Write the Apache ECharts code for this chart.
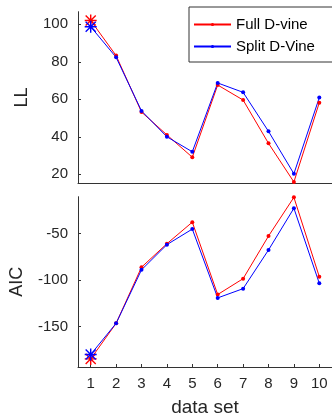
<!DOCTYPE html>
<html>
<head>
<meta charset="utf-8">
<script src="https://cdn.jsdelivr.net/npm/echarts@6/dist/echarts.min.js"></script>
<style>
  html, body { margin: 0; padding: 0; background: #fff; }
  #chart { width: 332px; height: 418px; }
</style>
</head>
<body>
<div id="chart"></div>
<script>
// data
const dataSets = ['1', '2', '3', '4', '5', '6', '7', '8', '9', '10'];
const llFull = [102, 83.3, 53.2, 41, 29.1, 67.6, 59.6, 36.5, 15.9, 58.2];
const llSplit = [98.7, 82.4, 53.8, 40, 32, 68.7, 63.7, 42.9, 20.3, 60.9];
const aicFull = [-184.5, -146.4, -86.2, -61, -37.9, -115.5, -98.5, -52.8, -11.3, -96.4];
const aicSplit = [-179.8, -146.4, -89, -62, -45.3, -119.1, -109.2, -67.7, -23, -103.5];
const llTicks = [20, 40, 60, 80, 100];
const aicTicks = [-150, -100, -50];

const RED = '#ff0000';
const BLUE = '#0000ff';
const AXIS = '#333333';
const FONT = 'Liberation Sans';

// matlab '*' marker
const STAR = 'path://M-0.6,-5L0.6,-5L0.6,5L-0.6,5Z M-5,-0.6L5,-0.6L5,0.6L-5,0.6Z ' +
  'M-4.6,-3.8L-3.8,-4.6L4.6,3.8L3.8,4.6Z M-4.6,3.8L3.8,-4.6L4.6,-3.8L-3.8,4.6Z';

// first point gets the star
const withStar = (arr) => arr.map((v, i) => i === 0 ? { value: v, symbol: STAR, symbolSize: 12 } : v);

const mkSeries = (name, values, color, idx) => ({
  name: name,
  type: 'line',
  xAxisIndex: idx,
  yAxisIndex: idx,
  data: withStar(values),
  symbol: 'circle',
  symbolSize: 4,
  lineStyle: { color: color, width: 1 },
  itemStyle: { color: color },
  emphasis: { disabled: true }
});

const yAxisBase = (idx, min, max, ticks, name, gap) => ({
  type: 'value',
  gridIndex: idx,
  min: min,
  max: max,
  name: name,
  nameLocation: 'middle',
  nameGap: gap,
  nameTextStyle: { fontFamily: FONT, fontSize: 18, color: '#262626' },
  splitLine: { show: false },
  axisLine: { show: true, lineStyle: { color: AXIS, width: 1 } },
  axisTick: { show: true, inside: true, length: 3, customValues: ticks, lineStyle: { color: AXIS } },
  axisLabel: { customValues: ticks, margin: 10, fontFamily: FONT, fontSize: 15, color: '#262626' }
});

const chart = echarts.init(document.getElementById('chart'));
chart.setOption({
  animation: false,
  backgroundColor: '#fff',
  grid: [
    { left: 78, top: 11.7, width: 256, height: 171.6 },
    { left: 78, top: 196.7, width: 256, height: 171.6 }
  ],
  legend: {
    data: ['Full D-vine', 'Split D-Vine'],
    orient: 'vertical',
    left: 189,
    top: 7,
    padding: [10, 21, 8, 4],
    itemWidth: 37,
    itemHeight: 4,
    itemGap: 7,
    borderColor: AXIS,
    borderWidth: 1,
    selectedMode: false,
    textStyle: { fontFamily: FONT, fontSize: 15, color: '#000' }
  },
  xAxis: [
    {
      type: 'category', gridIndex: 0, data: dataSets,
      axisLine: { lineStyle: { color: AXIS } },
      axisTick: { show: false },
      axisLabel: { show: false }
    },
    {
      type: 'category', gridIndex: 1, data: dataSets,
      name: 'data set', nameLocation: 'middle', nameGap: 31,
      nameTextStyle: { fontFamily: FONT, fontSize: 19, color: '#262626' },
      axisLine: { lineStyle: { color: AXIS } },
      axisTick: { show: true, inside: true, length: 3, alignWithLabel: true, lineStyle: { color: AXIS } },
      axisLabel: { margin: 9, fontFamily: FONT, fontSize: 15, color: '#262626' }
    }
  ],
  yAxis: [
    yAxisBase(0, 15.2, 106.7, llTicks, 'LL', 47),
    yAxisBase(1, -193.2, -10.6, aicTicks, 'AIC', 52)
  ],
  series: [
    mkSeries('Full D-vine', llFull, RED, 0),
    mkSeries('Split D-Vine', llSplit, BLUE, 0),
    mkSeries('Full D-vine', aicFull, RED, 1),
    mkSeries('Split D-Vine', aicSplit, BLUE, 1)
  ]
});
</script>
</body>
</html>
